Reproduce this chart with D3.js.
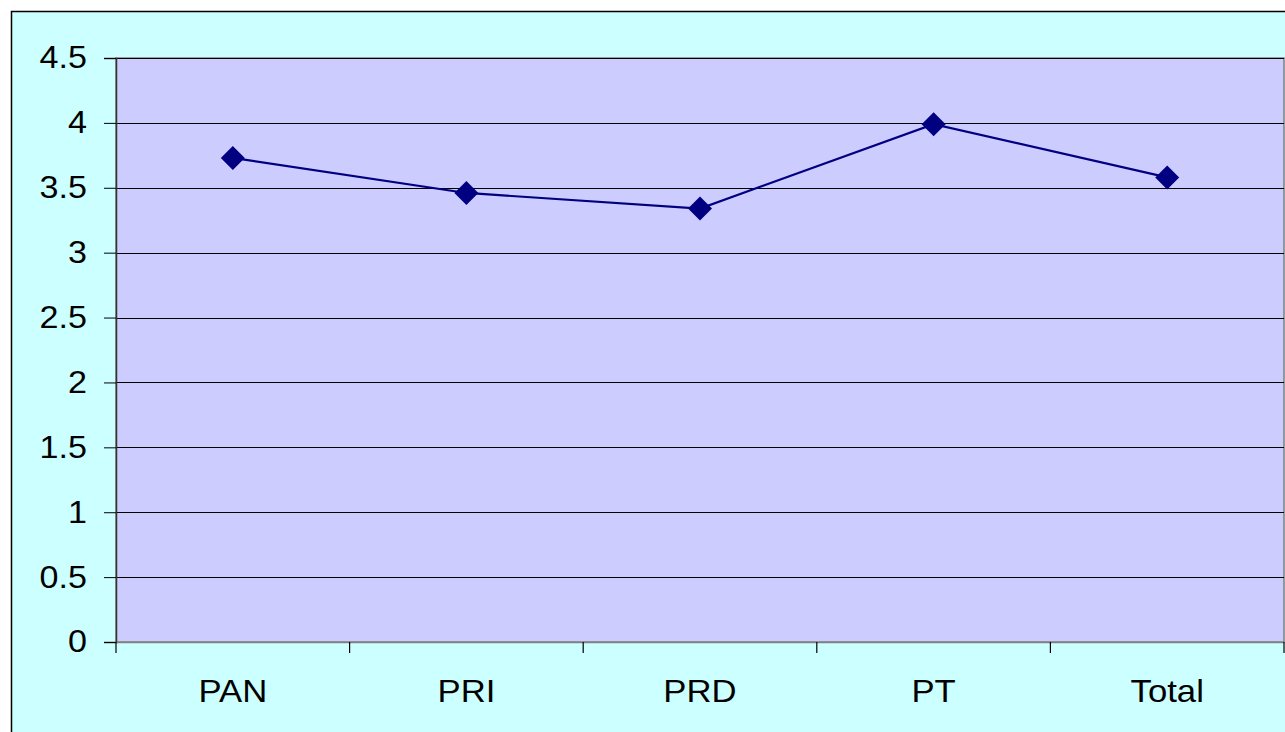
<!DOCTYPE html>
<html><head><meta charset="utf-8">
<script src="https://cdn.jsdelivr.net/npm/d3@7"></script>
<style>body{margin:0;background:#fff}svg{display:block}</style>
</head><body>
<script>
const categories = ["PAN","PRI","PRD","PT","Total"];
const values = [3.73, 3.46, 3.34, 3.99, 3.58];
const yTicks = [0,0.5,1,1.5,2,2.5,3,3.5,4,4.5];

const W = 1285, H = 732;
const svg = d3.select("body").append("svg").attr("width",W).attr("height",H);
// outer chart area
svg.append("rect").attr("x",11.5).attr("y",11.5).attr("width",W).attr("height",H)
  .attr("fill","#CCFFFF").attr("stroke","#000").attr("stroke-width",1.5);

const L=116, R=1284, T=58, B=642;
const x = d3.scaleBand().domain(categories).range([L,R]).padding(0);
const y = d3.scaleLinear().domain([0,4.5]).range([B,T]);

svg.append("rect").attr("x",L).attr("y",T).attr("width",R-L).attr("height",B-T)
  .attr("fill","#CCCCFF").attr("stroke","#808080").attr("stroke-width",1.5);

// gridlines
svg.append("g").selectAll("line").data(yTicks.filter(d=>d>0)).join("line")
  .attr("x1",L).attr("x2",R).attr("y1",d=>Math.round(y(d))+0.5).attr("y2",d=>Math.round(y(d))+0.5)
  .attr("stroke","#000").attr("stroke-width",1);

const FONT = "Liberation Sans, Arial, sans-serif";
// y axis
const yAxis = svg.append("g").attr("transform",`translate(${L},0)`)
  .call(d3.axisLeft(y).tickValues(yTicks).tickSize(12).tickPadding(14.5).tickFormat(d3.format("")));
yAxis.select(".domain").attr("stroke","#333").attr("stroke-width",1.5);
yAxis.selectAll(".tick line").attr("stroke","#000");
yAxis.selectAll("text").attr("font-family",FONT).attr("font-size",31).attr("fill","#000")
  .attr("transform","scale(1.1,1)");

// x axis
const xAxis = svg.append("g").attr("transform",`translate(0,${B})`)
  .call(d3.axisBottom(x).tickSize(0).tickPadding(38));
xAxis.select(".domain").attr("stroke","#808080").attr("stroke-width",1.5);
xAxis.selectAll("text").attr("font-family",FONT).attr("font-size",31).attr("fill","#000")
  .attr("transform","scale(1.12,1)");
// category boundary ticks
const bounds = categories.map(c=>x(c)).concat([R]);
svg.append("g").selectAll("line").data(bounds).join("line")
  .attr("x1",d=>d).attr("x2",d=>d).attr("y1",B).attr("y2",B+11)
  .attr("stroke","#000").attr("stroke-width",1.2);

// line
const cx = c => x(c) + x.bandwidth()/2;
const line = d3.line().x((d,i)=>cx(categories[i])).y(d=>y(d));
svg.append("path").datum(values).attr("d",line).attr("fill","none")
  .attr("stroke","#000080").attr("stroke-width",2.2);
svg.append("g").selectAll("path").data(values).join("path")
  .attr("transform",(d,i)=>`translate(${cx(categories[i])},${y(d)})`)
  .attr("d","M0,-12L12,0L0,12L-12,0Z").attr("fill","#000080");
</script>
</body></html>
